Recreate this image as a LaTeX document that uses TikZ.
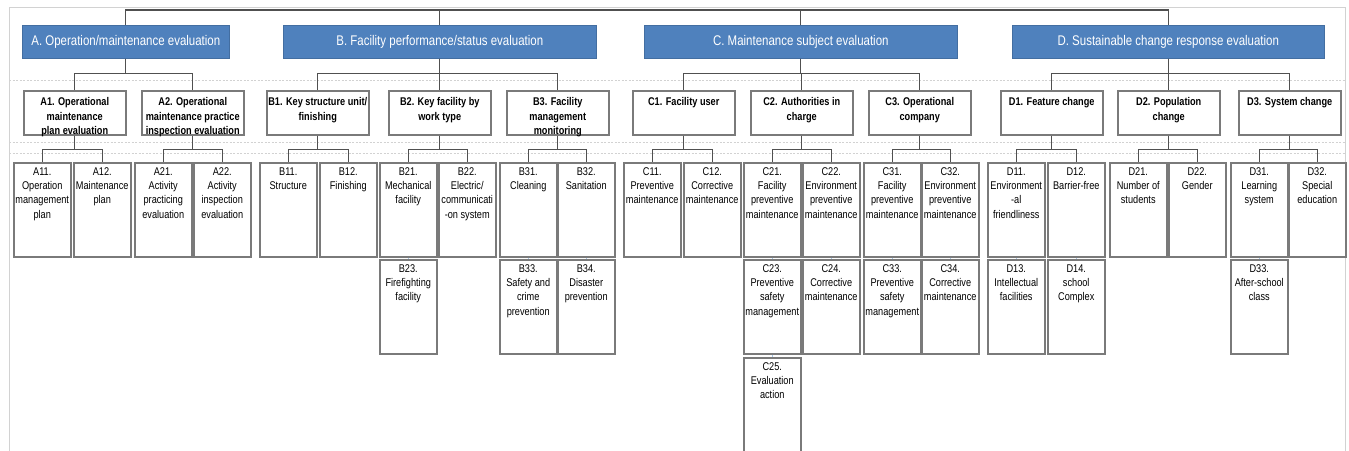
\documentclass[tikz,border=0pt]{standalone}
\usepackage{fontspec}
\setmainfont{Liberation Sans}[FakeStretch=0.82]
\definecolor{boxgray}{HTML}{7A7A7A}
\definecolor{linegray}{HTML}{505050}
\definecolor{topblue}{HTML}{4F81BD}
\definecolor{framegray}{HTML}{D2D2D2}
\definecolor{tickblue}{HTML}{A9C8E8}
\tikzset{
  topbox/.style={fill=topblue, draw=topblue!85!black, line width=0.6pt, anchor=north west,
    inner sep=0pt, text=white, font=\fontsize{14}{16}\selectfont},
  midbox/.style={draw=boxgray, fill=white, line width=1.5pt, anchor=north west,
    inner xsep=1pt, inner ysep=7pt, font=\fontsize{11.2}{14.4}\selectfont\bfseries,
    execute at begin node={\begin{minipage}[t][30pt][t]{100pt}\centering\hyphenpenalty=10000\exhyphenpenalty=10000},
    execute at end node={\end{minipage}}},
  leafbox/.style={draw=boxgray, fill=white, line width=1.5pt, anchor=north west,
    inner xsep=1pt, inner ysep=4.8pt, font=\fontsize{11.2}{14.3}\selectfont,
    execute at begin node={\begin{minipage}[t][84.4pt][t]{55pt}\centering\hyphenpenalty=10000\exhyphenpenalty=10000},
    execute at end node={\end{minipage}}},
  conn/.style={draw=linegray, line width=1.2pt},
  tick/.style={draw=tickblue, line width=0.8pt},
  rowline/.style={draw=framegray, line width=0.8pt, dash pattern=on 2pt off 1.5pt},
  frameline/.style={draw=framegray, line width=1pt},
}
\begin{document}
\begin{tikzpicture}[x=1pt,y=-1pt]
\useasboundingbox (0,0) rectangle (1349,450);
% frame and row separators
\draw[frameline] (9,470) -- (9,7) -- (1345,7) -- (1345,470);
\draw[rowline] (9,80) -- (1345,80);
\draw[rowline] (9,142) -- (1345,142);
\draw[rowline] (9,153) -- (1345,153);

% top level
\node[topbox, minimum width=207, minimum height=33] (A) at (22,25) {A. Operation/maintenance evaluation};
\node[topbox, minimum width=313, minimum height=33] (B) at (283,25) {B. Facility performance/status evaluation};
\node[topbox, minimum width=313, minimum height=33] (C) at (644,25) {C. Maintenance subject evaluation};
\node[topbox, minimum width=312, minimum height=33] (D) at (1012,25) {D. Sustainable change response evaluation};

% level 1
\node[midbox] (A1) at (23,90) {A1. Operational\\maintenance\\plan evaluation};
\node[midbox] (A2) at (141,90) {A2. Operational\\maintenance practice\\inspection evaluation};
\node[midbox] (B1) at (266,90) {B1. Key structure unit/\\finishing};
\node[midbox] (B2) at (388,90) {B2. Key facility by\\work type};
\node[midbox] (B3) at (506,90) {B3. Facility\\management\\monitoring};
\node[midbox] (C1) at (632,90) {C1. Facility user};
\node[midbox] (C2) at (750,90) {C2. Authorities in\\charge};
\node[midbox] (C3) at (868,90) {C3. Operational\\company};
\node[midbox] (D1) at (1000,90) {D1. Feature change};
\node[midbox] (D2) at (1117,90) {D2. Population\\change};
\node[midbox] (D3) at (1238,90) {D3. System change};

% level 2, row 1
\node[leafbox] (A11) at (13,162) {A11.\\Operation\\management\\plan};
\node[leafbox] (A12) at (73,162) {A12.\\Maintenance\\plan};
\node[leafbox] (A21) at (134,162) {A21.\\Activity\\practicing\\evaluation};
\node[leafbox] (A22) at (193,162) {A22.\\Activity\\inspection\\evaluation};
\node[leafbox] (B11) at (259,162) {B11.\\Structure};
\node[leafbox] (B12) at (319,162) {B12.\\Finishing};
\node[leafbox] (B21) at (379,162) {B21.\\Mechanical\\facility};
\node[leafbox] (B22) at (438,162) {B22.\\Electric/\\communicati\\-on system};
\node[leafbox] (B31) at (499,162) {B31.\\Cleaning};
\node[leafbox] (B32) at (557,162) {B32.\\Sanitation};
\node[leafbox] (C11) at (623,162) {C11.\\Preventive\\maintenance};
\node[leafbox] (C12) at (683,162) {C12.\\Corrective\\maintenance};
\node[leafbox] (C21) at (743,162) {C21.\\Facility\\preventive\\maintenance};
\node[leafbox] (C22) at (802,162) {C22.\\Environment\\preventive\\maintenance};
\node[leafbox] (C31) at (863,162) {C31.\\Facility\\preventive\\maintenance};
\node[leafbox] (C32) at (921,162) {C32.\\Environment\\preventive\\maintenance};
\node[leafbox] (D11) at (987,162) {D11.\\Environment\\-al\\friendliness};
\node[leafbox] (D12) at (1047,162) {D12.\\Barrier-free};
\node[leafbox] (D21) at (1109,162) {D21.\\Number of\\students};
\node[leafbox] (D22) at (1168,162) {D22.\\Gender};
\node[leafbox] (D31) at (1230,162) {D31.\\Learning\\system};
\node[leafbox] (D32) at (1288,162) {D32.\\Special\\education};

% level 2, row 2
\node[leafbox] (B23) at (379,259) {B23.\\Firefighting\\facility};
\node[leafbox] (B33) at (499,259) {B33.\\Safety and\\crime\\prevention};
\node[leafbox] (B34) at (557,259) {B34.\\Disaster\\prevention};
\node[leafbox] (C23) at (743,259) {C23.\\Preventive\\safety\\management};
\node[leafbox] (C24) at (802,259) {C24.\\Corrective\\maintenance};
\node[leafbox] (C33) at (863,259) {C33.\\Preventive\\safety\\management};
\node[leafbox] (C34) at (921,259) {C34.\\Corrective\\maintenance};
\node[leafbox] (D13) at (987,259) {D13.\\Intellectual\\facilities};
\node[leafbox] (D14) at (1047,259) {D14.\\school\\Complex};
\node[leafbox] (D33) at (1230,259) {D33.\\After-school\\class};

% level 2, row 3
\node[leafbox] (C25) at (743,357) {C25.\\Evaluation\\action};

% connectors: root to top level
\coordinate (topline) at (0,10);
\draw[conn] (A.north) -- (A.north |- topline) -- (D.north |- topline) -- (D.north);
\draw[conn] (B.north) -- (B.north |- topline);
\draw[conn] (C.north) -- (C.north |- topline);

% top level to level 1
\foreach \p/\c in {A/A1, A/A2, B/B1, B/B2, B/B3, C/C1, C/C2, C/C3, D/D1, D/D2, D/D3}
  \draw[conn] (\p.south) -- ++(0,15) -| (\c.north);

% level 1 to level 2
\foreach \p/\c in {A1/A11, A1/A12, A2/A21, A2/A22, B1/B11, B1/B12, B2/B21, B2/B22,
                   B3/B31, B3/B32, C1/C11, C1/C12, C2/C21, C2/C22, C3/C31, C3/C32,
                   D1/D11, D1/D12, D2/D21, D2/D22, D3/D31, D3/D32}
  \draw[conn] (\p.south) -- ++(0,14) -| (\c.north);

% stacked children
\foreach \p/\c in {B21/B23, B31/B33, B32/B34, C21/C23, C23/C25, C22/C24,
                   C31/C33, C32/C34, D11/D13, D12/D14, D31/D33}
  \draw[tick] (\p.south) -- (\c.north);
\end{tikzpicture}
\end{document}
